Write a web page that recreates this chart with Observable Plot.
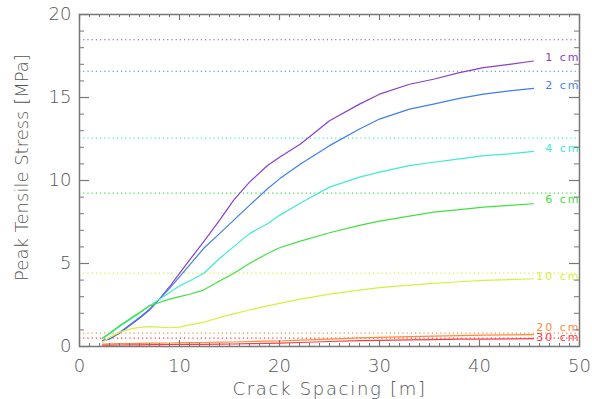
<!DOCTYPE html>
<html><head><meta charset="utf-8">
<script src="https://cdn.jsdelivr.net/npm/d3@7"></script>
<script src="https://cdn.jsdelivr.net/npm/@observablehq/plot@0.6"></script>
<style>html,body{margin:0;padding:0;background:#fff;} svg{display:block}</style>
</head><body><div id="chart"></div>
<script>
// Crack spacing [m] (shared x values)
const spacing = [2.3, 3, 4, 5, 6, 7, 8, 9, 10, 11, 12.4, 14, 15.4, 17, 18.8, 20, 22.1, 25, 28, 30, 33, 35.4, 38, 40.4, 43, 45.4];
const thicknesses = ["1 cm", "2 cm", "4 cm", "6 cm", "10 cm", "20 cm", "30 cm"];
// Peak tensile stress [MPa] per thickness
const stress1cm  = [0.35, 0.45, 0.8, 1.25, 1.7, 2.2, 2.85, 3.6, 4.4, 5.2, 6.3, 7.6, 8.8, 9.9, 10.9, 11.4, 12.2, 13.6, 14.6, 15.2, 15.8, 16.1, 16.5, 16.8, 17.0, 17.2];
const stress2cm  = [0.35, 0.45, 0.85, 1.3, 1.75, 2.25, 2.85, 3.5, 4.2, 4.9, 5.9, 6.8, 7.6, 8.5, 9.5, 10.1, 11.0, 12.1, 13.1, 13.7, 14.3, 14.6, 14.95, 15.2, 15.4, 15.55];
const stress4cm  = [0.5, 0.75, 1.2, 1.6, 2.0, 2.45, 2.85, 3.25, 3.65, 3.95, 4.4, 5.3, 6.0, 6.8, 7.4, 7.9, 8.65, 9.6, 10.2, 10.5, 10.9, 11.1, 11.3, 11.5, 11.6, 11.75];
const stress6cm  = [0.5, 0.8, 1.25, 1.65, 2.05, 2.45, 2.65, 2.85, 3.0, 3.15, 3.4, 3.95, 4.4, 5.0, 5.6, 5.95, 6.35, 6.85, 7.3, 7.55, 7.85, 8.1, 8.25, 8.4, 8.5, 8.6];
const stress10cm = [0.25, 0.55, 0.85, 1.05, 1.15, 1.2, 1.17, 1.13, 1.17, 1.3, 1.45, 1.75, 1.97, 2.2, 2.45, 2.6, 2.85, 3.15, 3.4, 3.55, 3.7, 3.8, 3.9, 3.98, 4.03, 4.08];
const stress20cm = [0.15, 0.16, 0.17, 0.18, 0.19, 0.2, 0.2, 0.21, 0.22, 0.23, 0.24, 0.26, 0.27, 0.3, 0.32, 0.33, 0.38, 0.45, 0.52, 0.55, 0.6, 0.62, 0.65, 0.68, 0.7, 0.72];
const stress30cm = [0.08, 0.08, 0.09, 0.1, 0.1, 0.11, 0.11, 0.12, 0.12, 0.13, 0.13, 0.14, 0.15, 0.17, 0.19, 0.2, 0.24, 0.3, 0.35, 0.37, 0.4, 0.42, 0.44, 0.45, 0.46, 0.47];
// Asymptotic (dotted) stress levels [MPa]
const asymptotes = [18.48, 16.58, 12.55, 9.24, 4.42, 0.8, 0.5];
// Stress level at which each curve label sits [MPa]
const labelStress = [17.41, 15.72, 11.93, 8.86, 4.22, 1.14, 0.54];
const colors = ["#8a40c8", "#3f7fea", "#40ead6", "#40e040", "#d6f040", "#ff8a3a", "#ff3a44"];
const xTicks = [0, 10, 20, 30, 40, 50];
const yTicks = [0, 5, 10, 15, 20];
const xTitle = "Crack Spacing [m]";
const yTitle = "Peak Tensile Stress [MPa]";

const seriesValues = [stress1cm, stress2cm, stress4cm, stress6cm, stress10cm, stress20cm, stress30cm];
const table = [];
thicknesses.forEach((t, i) => spacing.forEach((x, j) => table.push({thickness: t, spacing: x, stress: seriesValues[i][j]})));
const asymTable = thicknesses.map((t, i) => ({thickness: t, stress: asymptotes[i]}));
const labelTable = thicknesses.map((t, i) => ({thickness: t, stress: labelStress[i]}));

const W = 592, H = 399, mt = 14, mr = 13, mb = 53, ml = 79;
const pw = W - ml - mr, ph = H - mt - mb;
const xMinor = d3.range(0, 51, 1), yMinor = d3.range(0, 21, 1);
const frameCol = "#777", textCol = "#555";
const font = "'DejaVu Sans', sans-serif";

const chart = Plot.plot({
  width: W, height: H,
  marginTop: mt, marginRight: mr, marginBottom: mb, marginLeft: ml,
  style: {fontFamily: font, background: "#fff"},
  x: {domain: [0, 50]},
  y: {domain: [0, 20]},
  color: {domain: thicknesses, range: colors},
  marks: [
    Plot.ruleY(asymTable, {y: "stress", stroke: "thickness", strokeDasharray: "1.2,3", strokeWidth: 1.2}),
    Plot.line(table, {x: "spacing", y: "stress", z: "thickness", stroke: "thickness", strokeWidth: 1.2}),
    Plot.text(labelTable, {y: "stress", text: "thickness", fill: "thickness", frameAnchor: "right", dx: 1, textAnchor: "end", fontSize: 11, fontWeight: 400}),
    // inward ticks, all four sides
    Plot.tickX(xTicks, {x: d => d, insetTop: ph - 6, stroke: frameCol, strokeWidth: 1.2}),
    Plot.tickX(xTicks, {x: d => d, insetBottom: ph - 6, stroke: frameCol, strokeWidth: 1.2}),
    Plot.tickX(xMinor, {x: d => d, insetTop: ph - 3, stroke: frameCol, strokeWidth: 1}),
    Plot.tickX(xMinor, {x: d => d, insetBottom: ph - 3, stroke: frameCol, strokeWidth: 1}),
    Plot.tickY(yTicks, {y: d => d, insetRight: pw - 10, stroke: frameCol, strokeWidth: 1.2}),
    Plot.tickY(yTicks, {y: d => d, insetLeft: pw - 10, stroke: frameCol, strokeWidth: 1.2}),
    Plot.tickY(yMinor, {y: d => d, insetRight: pw - 5, stroke: frameCol, strokeWidth: 1}),
    Plot.tickY(yMinor, {y: d => d, insetLeft: pw - 5, stroke: frameCol, strokeWidth: 1}),
    Plot.frame({stroke: frameCol, strokeWidth: 1.5}),
    Plot.axisX(xTicks, {tickSize: 0, tickPadding: 13, fontSize: 18, fontWeight: 200, fill: textCol, label: null, tickFormat: d => String(d)}),
    Plot.axisY(yTicks, {tickSize: 0, tickPadding: 8, fontSize: 18, fontWeight: 200, fill: textCol, label: null, tickFormat: d => String(d)}),
    Plot.text([xTitle], {frameAnchor: "bottom", lineAnchor: "middle", textAnchor: "middle", dy: 43, fontSize: 18, fontWeight: 200, fill: textCol}),
    Plot.text([yTitle], {frameAnchor: "left", lineAnchor: "middle", textAnchor: "middle", dx: -57, dy: -13, rotate: -90, fontSize: 18, fontWeight: 200, fill: textCol})
  ]
});
d3.select(chart).selectAll("text").each(function () {
  const s = this.textContent;
  if (s === xTitle) this.style.letterSpacing = "1.7px";
  else if (thicknesses.includes(s)) this.style.letterSpacing = "2px";
});
document.getElementById("chart").appendChild(chart);
</script>
</body></html>
